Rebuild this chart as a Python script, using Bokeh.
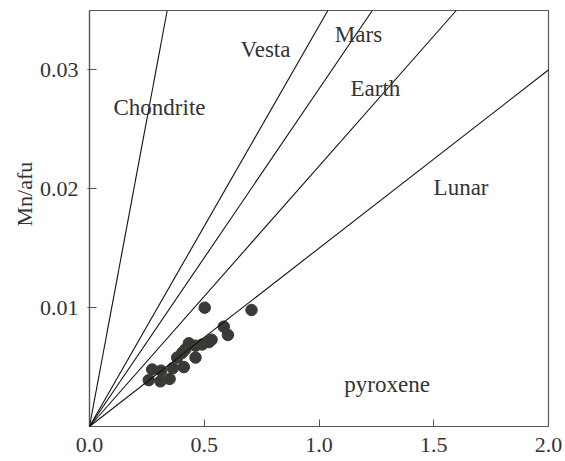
from bokeh.plotting import figure
from bokeh.models import Slope, Label, FixedTicker, Range1d, ColumnDataSource, Title, NumeralTickFormatter
from bokeh.embed import file_html
from bokeh.resources import INLINE

# Reference lines (Mn/Fe ratios through origin)
line_names = ["Chondrite", "Vesta", "Mars", "Earth", "Lunar"]
line_slopes = [0.1034, 0.0337, 0.0284, 0.0219, 0.0150]

# Labels of the lines and field
label_texts = ["Chondrite", "Vesta", "Mars", "Earth", "Lunar", "pyroxene"]
label_x = [0.305, 0.767, 1.172, 1.246, 1.619, 1.297]
label_y = [0.0268, 0.0317, 0.0330, 0.0284, 0.0201, 0.0035]

# Pyroxene analyses: Fe/afu (x) vs Mn/afu (y)
fe_afu = [0.502, 0.706, 0.585, 0.603, 0.532, 0.520, 0.491, 0.433, 0.462, 0.418,
          0.404, 0.462, 0.382, 0.411, 0.363, 0.273, 0.312, 0.258, 0.309, 0.349]
mn_afu = [0.0100, 0.0098, 0.0084, 0.0077, 0.0073, 0.0071, 0.0069, 0.0070, 0.0068, 0.0065,
          0.0062, 0.0058, 0.0058, 0.0050, 0.0049, 0.0048, 0.0047, 0.0039, 0.0038, 0.0040]

x_ticks = [0.0, 0.5, 1.0, 1.5, 2.0]
y_ticks = [0.01, 0.02, 0.03]

FONT = "Liberation Serif"

p = figure(width=565, height=461, output_backend="svg", toolbar_location=None,
           x_range=Range1d(0, 2.0), y_range=Range1d(0, 0.035),
           min_border_left=89, min_border_right=17, min_border_top=10, min_border_bottom=35)

p.xgrid.visible = False
p.ygrid.visible = False
p.outline_line_color = "#555555"
p.outline_line_width = 1.2
p.background_fill_color = "white"
p.border_fill_color = "white"

for ax in (p.xaxis[0], p.yaxis[0]):
    ax.axis_line_color = "#555555"
    ax.axis_line_width = 1.2
    ax.major_tick_line_color = "#555555"
    ax.major_tick_in = 7
    ax.major_tick_out = 0
    ax.minor_tick_line_color = None
    ax.major_label_text_font = FONT
    ax.major_label_text_font_size = "22px"
    ax.major_label_text_color = "#333333"

p.xaxis[0].ticker = FixedTicker(ticks=x_ticks)
p.yaxis[0].ticker = FixedTicker(ticks=y_ticks)
p.xaxis[0].formatter = NumeralTickFormatter(format="0.0")
p.yaxis[0].formatter = NumeralTickFormatter(format="0.00")
p.xaxis[0].major_label_standoff = 11
p.yaxis[0].major_label_standoff = 9
p.yaxis[0].major_tick_out = 2

for s in line_slopes:
    p.add_layout(Slope(gradient=s, y_intercept=0, line_color="#111111", line_width=1.1))

src = ColumnDataSource(dict(x=fe_afu, y=mn_afu))
p.scatter("x", "y", source=src, size=11.5, fill_color="#3b3935", line_color="#3b3935")

for t, x, y in zip(label_texts, label_x, label_y):
    p.add_layout(Label(x=x, y=y, text=t, text_font=FONT, text_font_size="23px",
                       text_color="#333333", text_align="center", text_baseline="middle"))

# y-axis title
p.add_layout(Title(text="Mn/afu", align="left", offset=200, text_font=FONT,
                   text_font_size="22px", text_font_style="normal",
                   text_color="#333333", standoff=0), "left")

open("out.html", "w").write(file_html(p, INLINE))
